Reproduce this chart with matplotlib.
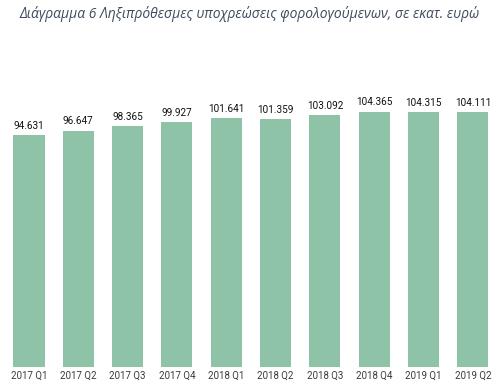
import matplotlib.pyplot as plt

# data
quarters = ["2017 Q1", "2017 Q2", "2017 Q3", "2017 Q4", "2018 Q1",
            "2018 Q2", "2018 Q3", "2018 Q4", "2019 Q1", "2019 Q2"]
values = [94.631, 96.647, 98.365, 99.927, 101.641,
          101.359, 103.092, 104.365, 104.315, 104.111]
value_labels = ["94.631", "96.647", "98.365", "99.927", "101.641",
                "101.359", "103.092", "104.365", "104.315", "104.111"]

title = "Διάγραμμα 6 Ληξιπρόθεσμες υποχρεώσεις φορολογούμενων, σε εκατ. ευρώ"

W, H = 499, 390
fig = plt.figure(figsize=(W / 100, H / 100), dpi=100)

# axes placed so bar centres sit at x=29..473 px and baseline at y=367 px
ax_left = 4.3 / W
ax_width = 493.3 / W
ax_bottom = (H - 367) / H
ax_top_px = 40
ax_height = (367 - ax_top_px) / H
ax = fig.add_axes([ax_left, ax_bottom, ax_width, ax_height])

x = range(len(quarters))
bars = ax.bar(x, values, width=0.63, color="#8ec3a7", edgecolor="none")

ax.set_xlim(-0.5, len(quarters) - 0.5)
ax.set_ylim(0, (367 - ax_top_px) / 2.447)

for bar, lab in zip(bars, value_labels):
    ax.annotate(lab, (bar.get_x() + bar.get_width() / 2, bar.get_height()),
                xytext=(0, 3), textcoords="offset points",
                ha="center", va="bottom", fontsize=7.2,
                family="Roboto", color="#111111")

ax.set_xticks(list(x))
ax.set_xticklabels(quarters, fontsize=7, family="Roboto", color="#3a3a3a")
ax.tick_params(axis="x", length=0, pad=3)
ax.set_yticks([])
for s in ax.spines.values():
    s.set_visible(False)

fig.text(0.5, 1 - 14 / H, title, ha="center", va="center",
         fontsize=10, style="italic", family="Open Sans", color="#3d4a5c")

fig.savefig("out.png", dpi=100)
